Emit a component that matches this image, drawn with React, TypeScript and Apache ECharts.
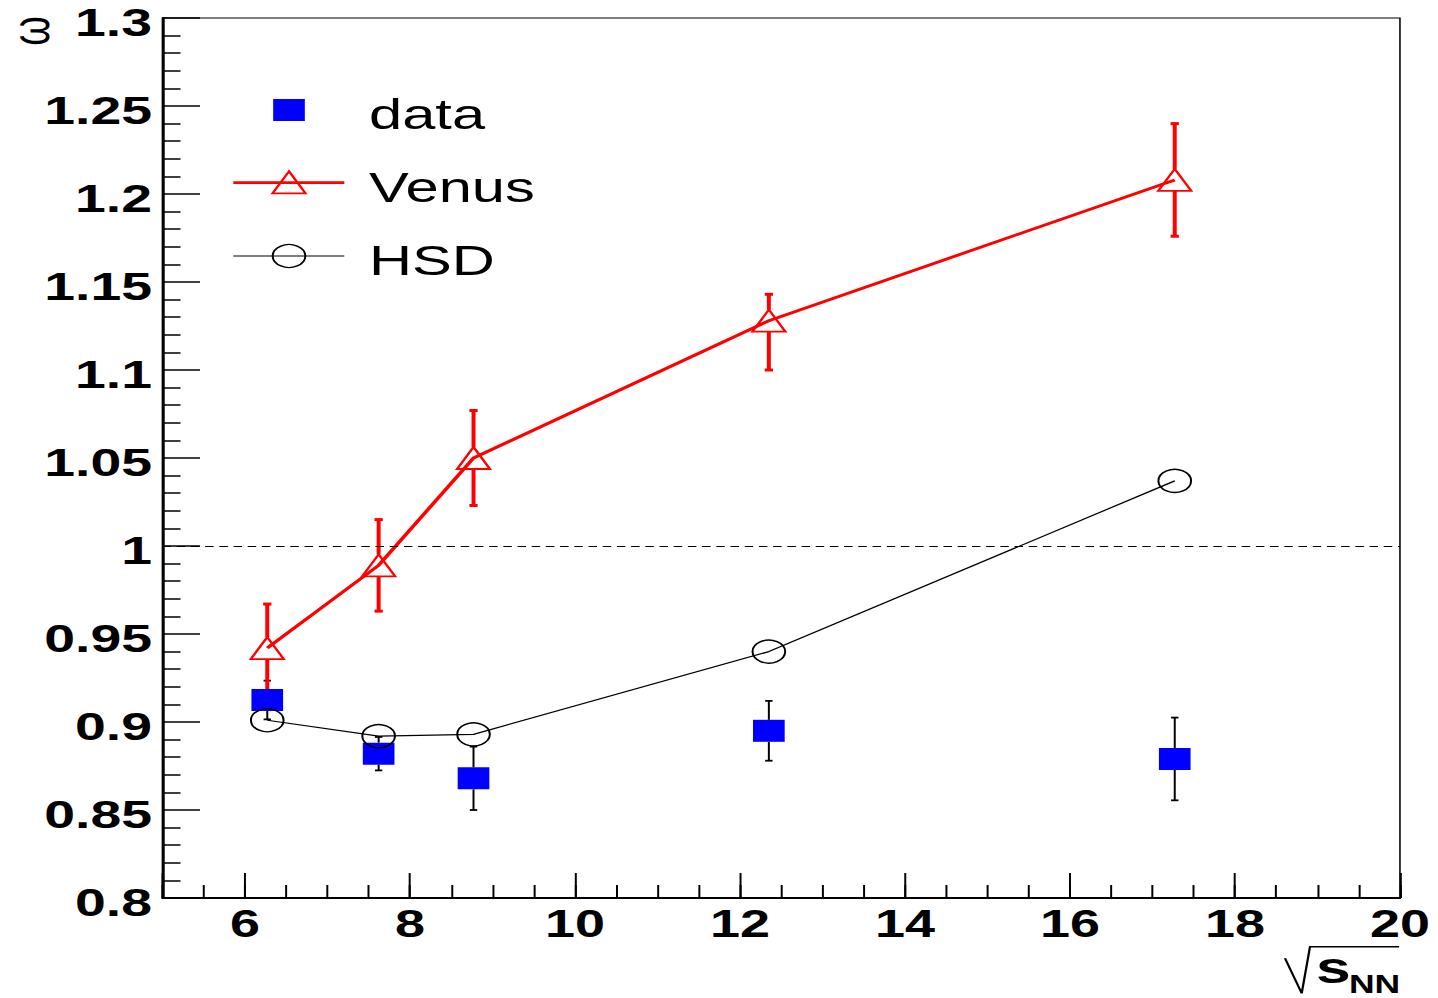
import { useEffect, useRef } from 'react';
import * as echarts from 'echarts';

// sqrt(s_NN) in GeV for the five beam energies
const energies = [6.27, 7.62, 8.77, 12.35, 17.27];

// measured scaled variance omega with statistical errors
const dataOmega = [0.9125, 0.882, 0.868, 0.895, 0.879];
const dataErr = [0.011, 0.0095, 0.018, 0.017, 0.0235];

// VENUS model with (asymmetric) errors
const venusOmega = [0.942, 0.989, 1.05, 1.128, 1.208];
const venusErrLow = [0.025, 0.026, 0.027, 0.028, 0.032];
const venusErrHigh = [0.025, 0.026, 0.027, 0.015, 0.032];

// HSD model
const hsdOmega = [0.901, 0.892, 0.893, 0.94, 1.037];

const legendLabels = ['data', 'Venus', 'HSD'];
const yTitle = 'ω';
const xTitleMain = 's';
const xTitleSub = 'NN';

// the canvas is drawn narrow and widened horizontally, like the original wide-aspect plot
const STRETCH = 1.42;
const W = 1438 / STRETCH;
const H = 998;
const ux = (v: number) => v / STRETCH;

const FONT = "'Liberation Sans', Arial, Helvetica, sans-serif";
const BLUE = '#0000ff';
const RED = '#ff0000';
const BLACK = '#000000';

const MARKER_HALF = 11;

function errorBars(color: string, barWidth: number, capWidth: number, capHalf: number) {
  return (params: any, api: any) => {
    const x = api.value(0);
    const y = api.value(1);
    const lo = api.value(2);
    const hi = api.value(3);
    const c = api.coord([x, y]);
    const t = api.coord([x, y + hi]);
    const b = api.coord([x, y - lo]);
    const bar = { stroke: color, lineWidth: barWidth };
    const cap = { stroke: color, lineWidth: capWidth };
    const children: any[] = [];
    if (c[1] - MARKER_HALF > t[1]) {
      children.push({ type: 'line', shape: { x1: c[0], y1: t[1], x2: c[0], y2: c[1] - MARKER_HALF }, style: bar });
    }
    if (b[1] > c[1] + MARKER_HALF) {
      children.push({ type: 'line', shape: { x1: c[0], y1: c[1] + MARKER_HALF, x2: c[0], y2: b[1] }, style: bar });
    }
    children.push({ type: 'line', shape: { x1: c[0] - capHalf, y1: t[1], x2: c[0] + capHalf, y2: t[1] }, style: cap });
    children.push({ type: 'line', shape: { x1: c[0] - capHalf, y1: b[1], x2: c[0] + capHalf, y2: b[1] }, style: cap });
    return { type: 'group', children };
  };
}

function buildOption() {
  const legendX = ux(289);
  return {
    animation: false,
    backgroundColor: '#ffffff',
    grid: {
      left: ux(162.5),
      right: W - ux(1399.5),
      top: 18,
      bottom: H - 898,
      show: true,
      borderColor: BLACK,
      borderWidth: 1.1,
      backgroundColor: 'transparent',
    },
    xAxis: [
      {
        type: 'value',
        min: 5,
        max: 20,
        minInterval: 2,
        maxInterval: 2,
        splitNumber: 8,
        position: 'bottom',
        axisLine: { show: true, onZero: false, lineStyle: { color: BLACK, width: 1.8 } },
        axisTick: { show: true, inside: true, length: 25, lineStyle: { color: BLACK, width: 1.4 } },
        axisLabel: {
          color: BLACK,
          fontFamily: FONT,
          fontSize: 38,
          fontWeight: 'bold',
          margin: 7,
          lineHeight: 38,
          formatter: (v: number) => (v < 5.5 ? '' : String(v)),
        },
        splitLine: { show: false },
      },
      {
        type: 'value',
        min: 5,
        max: 20,
        interval: 0.5,
        position: 'bottom',
        axisLine: { show: false },
        axisTick: { show: true, inside: true, length: 13, lineStyle: { color: BLACK, width: 1.4 } },
        axisLabel: { show: false },
        splitLine: { show: false },
      },
    ],
    yAxis: {
      type: 'value',
      min: 0.8,
      max: 1.3,
      interval: 0.05,
      axisLine: { show: true, onZero: false, lineStyle: { color: BLACK, width: 2 } },
      axisTick: { show: true, inside: true, length: ux(37.5), lineStyle: { color: BLACK, width: 1.5 } },
      minorTick: { show: true, splitNumber: 5, length: ux(18), lineStyle: { color: BLACK, width: 1.5 } },
      axisLabel: {
        color: BLACK,
        fontFamily: FONT,
        fontSize: 39,
        fontWeight: 'bold',
        margin: ux(10.5),
        verticalAlign: 'top',
        lineHeight: 9,
      },
      splitLine: { show: false },
    },
    series: [
      {
        type: 'custom',
        name: 'data errors',
        xAxisIndex: 0,
        silent: true,
        renderItem: errorBars(BLACK, 1.4, 1.8, 2.6),
        encode: { x: 0, y: 1 },
        data: energies.map((x, i) => [x, dataOmega[i], dataErr[i], dataErr[i]]),
      },
      {
        type: 'scatter',
        name: legendLabels[0],
        xAxisIndex: 0,
        silent: true,
        symbol: 'rect',
        symbolSize: [22.3, 22],
        itemStyle: { color: BLUE, opacity: 1 },
        emphasis: { disabled: true },
        data: energies.map((x, i) => [x, dataOmega[i]]),
        markLine: {
          silent: true,
          symbol: 'none',
          label: { show: false },
          lineStyle: { color: BLACK, width: 1, type: [6, 4] },
          data: [{ yAxis: 1 }],
        },
      },
      {
        type: 'line',
        name: legendLabels[1],
        xAxisIndex: 0,
        silent: true,
        symbol: 'triangle',
        symbolSize: [23.2, 22],
        showSymbol: true,
        lineStyle: { color: RED, width: 2.8 },
        itemStyle: { color: 'rgba(0,0,0,0)', borderColor: RED, borderWidth: 1.8 },
        emphasis: { disabled: true },
        data: energies.map((x, i) => [x, venusOmega[i]]),
      },
      {
        type: 'custom',
        name: 'Venus errors',
        xAxisIndex: 0,
        silent: true,
        renderItem: errorBars(RED, 2.8, 3, 2.9),
        encode: { x: 0, y: 1 },
        data: energies.map((x, i) => [x, venusOmega[i], venusErrLow[i], venusErrHigh[i]]),
      },
      {
        type: 'line',
        name: legendLabels[2],
        xAxisIndex: 0,
        silent: true,
        symbol: 'circle',
        symbolSize: 23,
        showSymbol: true,
        lineStyle: { color: BLACK, width: 1.2 },
        itemStyle: { color: 'rgba(0,0,0,0)', borderColor: BLACK, borderWidth: 1.4 },
        emphasis: { disabled: true },
        data: energies.map((x, i) => [x, hsdOmega[i]]),
      },
    ],
    graphic: [
      // legend: data
      { type: 'rect', silent: true, shape: { x: legendX - 11.15, y: 99, width: 22.3, height: 22 }, style: { fill: BLUE } },
      // legend: Venus
      { type: 'line', silent: true, shape: { x1: ux(233.3), y1: 182.7, x2: ux(344.3), y2: 182.7 }, style: { stroke: RED, lineWidth: 2.8 } },
      {
        type: 'polygon',
        silent: true,
        shape: { points: [[legendX, 171.3], [legendX - 11.6, 193.3], [legendX + 11.6, 193.3]] },
        style: { fill: 'rgba(0,0,0,0)', stroke: RED, lineWidth: 1.8 },
      },
      // legend: HSD
      { type: 'line', silent: true, shape: { x1: ux(233.3), y1: 256, x2: ux(344.3), y2: 256 }, style: { stroke: BLACK, lineWidth: 1.2 } },
      { type: 'circle', silent: true, shape: { cx: legendX, cy: 256, r: 11.5 }, style: { fill: 'rgba(0,0,0,0)', stroke: BLACK, lineWidth: 1.4 } },
      ...legendLabels.map((label, i) => ({
        type: 'text',
        silent: true,
        x: ux(369),
        y: [114.4, 187, 260.4][i],
        style: { text: label, fontFamily: FONT, fontSize: 42, fill: BLACK, align: 'left', verticalAlign: 'middle' },
      })),
      // y axis title
      {
        type: 'text',
        silent: true,
        x: ux(30),
        y: 31,
        rotation: Math.PI / 2,
        style: { text: yTitle, fontFamily: FONT, fontSize: 38, fill: BLACK, align: 'center', verticalAlign: 'middle' },
      },
      // x axis title: radical sign
      {
        type: 'polyline',
        silent: true,
        shape: { points: [[ux(1285), 958.3], [ux(1301.7), 993.3], [ux(1310), 946.7], [ux(1399), 946.7]] },
        style: { stroke: BLACK, lineWidth: 1.6, fill: 'none' },
      },
      {
        type: 'text',
        silent: true,
        x: ux(1316),
        y: 968,
        style: { text: xTitleMain, fontFamily: FONT, fontSize: 44, fontWeight: 'bold', fill: BLACK, align: 'left', verticalAlign: 'middle' },
      },
      {
        type: 'text',
        silent: true,
        x: ux(1349),
        y: 984.3,
        style: { text: xTitleSub, fontFamily: FONT, fontSize: 25, fontWeight: 'bold', fill: BLACK, align: 'left', verticalAlign: 'middle' },
      },
    ],
  };
}

export default function App() {
  const ref = useRef<HTMLDivElement>(null);
  useEffect(() => {
    document.body.style.margin = '0';
    document.body.style.overflow = 'hidden';
    const chart = echarts.init(ref.current as HTMLDivElement, null, { renderer: 'svg' });
    chart.setOption(buildOption() as any);
    return () => {
      chart.dispose();
    };
  }, []);
  return (
    <div
      ref={ref}
      style={{
        position: 'absolute',
        left: 0,
        top: 0,
        width: W,
        height: H,
        transform: `scaleX(${STRETCH})`,
        transformOrigin: '0 0',
        background: '#ffffff',
      }}
    />
  );
}
